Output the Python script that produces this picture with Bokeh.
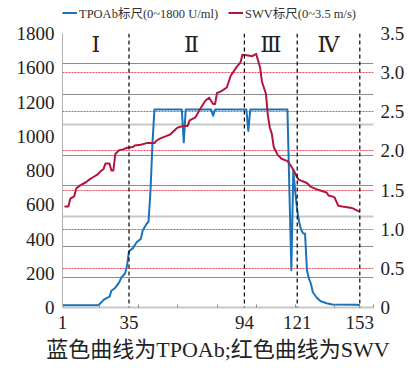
from bokeh.plotting import figure
from bokeh.layouts import column
from bokeh.models import (Range1d, LinearAxis, FixedTicker, Grid, Span, Legend,
                          LegendItem, Title)
from bokeh.core.properties import value
from bokeh.embed import file_html
from bokeh.resources import INLINE

# ---------------- data ----------------
tpo_x = [1, 19, 20, 22, 24, 25, 26, 28, 30, 31, 33, 34, 35, 37, 39, 41, 42, 44, 45,
         46, 47, 48, 62, 63, 64, 77, 78, 79, 95, 96, 97, 116, 118, 119, 120, 121,
         122, 123, 124, 125, 126, 127, 128, 129, 131, 133, 136, 139, 151, 153]
tpo_y = [15, 15, 22, 50, 65, 70, 110, 130, 165, 195, 225, 275, 370, 390, 430, 450,
         505, 550, 565, 770, 1080, 1300, 1300, 1085, 1300, 1300, 1260, 1300, 1300,
         1160, 1300, 1300, 245, 900, 760, 640, 560, 510, 488, 484, 243, 189, 156,
         100, 64, 41, 28, 20, 18, 17]

swv_x = [2, 4, 5, 7, 8, 10, 13, 15, 17, 19, 20, 22, 23, 25, 26, 27, 28, 30, 32, 34,
         37, 38, 41, 44, 48, 49, 51, 54, 56, 59, 60, 63, 65, 66, 69, 71, 74, 76, 78,
         79, 80, 82, 85, 87, 90, 92, 93, 96, 98, 100, 102, 103, 105, 106, 107, 108,
         109, 111, 113, 116, 117, 119, 121, 122, 126, 128, 132, 136, 137, 140, 142,
         144, 149, 150, 153]
swv_y = [1.29, 1.29, 1.39, 1.42, 1.52, 1.56, 1.60, 1.64, 1.67, 1.70, 1.73, 1.77,
         1.84, 1.84, 1.75, 1.75, 1.96, 2.01, 2.02, 2.04, 2.05, 2.07, 2.08, 2.10,
         2.10, 2.13, 2.16, 2.19, 2.21, 2.28, 2.30, 2.32, 2.32, 2.39, 2.43, 2.52,
         2.64, 2.68, 2.60, 2.60, 2.74, 2.76, 2.81, 2.96, 3.07, 3.13, 3.23, 3.22,
         3.21, 3.24, 3.07, 2.88, 2.73, 2.45, 2.30, 2.22, 2.05, 1.95, 1.90, 1.87,
         1.84, 1.76, 1.66, 1.63, 1.59, 1.54, 1.50, 1.47, 1.43, 1.41, 1.30, 1.29,
         1.27, 1.26, 1.22]

x_ticks = [1, 35, 94, 121, 153]
x_minor = [20, 40, 60, 80, 100, 120, 140, 160]
phase_bounds = [35, 94, 121, 153]
phase_labels = ["Ⅰ", "Ⅱ", "Ⅲ", "Ⅳ"]
phase_label_x = [18, 67, 107.5, 137]
left_labels = ["0", "200", "400", "600", "800", "1000", "1200", "1600", "1800"]
right_ticks = [0, 0.5, 1.0, 1.5, 2.0, 2.5, 3.0, 3.5]
right_labels = ["0", "0.5", "1.0", "1.5", "2.0", "2.5", "3.0", "3.5"]
grid_dark = [200, 400, 800, 1000, 1400, 1600]
grid_light = [600, 1200, 1800]
swv_grid = [0.5, 1.0, 1.5, 2.0, 2.5, 3.0]
legend_labels = ["TPOAb标尺(0~1800 U/ml)", "SWV标尺(0~3.5 m/s)"]
caption = "蓝色曲线为TPOAb;红色曲线为SWV"

# ---------------- style ----------------
SERIF = "Liberation Serif, Noto Sans CJK SC"
BLUE = "#1b72b8"
RED = "#b3163c"
TPO_MAX = 1800
SWV_MAX = 3.5
W = 408
LEG_H = 22
TICK_FS = "19px"

# ---------------- legend strip (frame is aligned with the chart's frame) -----
lf = figure(width=W, height=LEG_H, output_backend="svg", toolbar_location=None,
            x_range=Range1d(-20, -19), y_range=Range1d(-20, -19),
            x_axis_type=None, y_axis_type=None, min_border=0)
lf.outline_line_color = None
lf.background_fill_alpha = 0
l_tpo = lf.line(tpo_x, tpo_y, line_color=BLUE, line_width=2)
l_swv = lf.line(swv_x, swv_y, line_color=RED, line_width=2)
legend = Legend(items=[LegendItem(label=legend_labels[0], renderers=[l_tpo]),
                       LegendItem(label=legend_labels[1], renderers=[l_swv])],
                orientation="horizontal", location=(0, 0))
legend.padding = 0
legend.margin = 0
legend.spacing = 10
legend.glyph_width = 15
legend.glyph_height = 15
legend.label_height = 15
legend.label_standoff = 2
legend.label_text_font = SERIF
legend.label_text_font_size = "12.5px"
legend.label_text_color = "#333333"
legend.background_fill_alpha = 0
legend.border_line_color = None
lf.add_layout(legend)

# ---------------- main chart ----------------
p = figure(width=W, height=368 - LEG_H, output_backend="svg", toolbar_location=None,
           x_range=Range1d(1, 160), y_range=Range1d(0, TPO_MAX),
           x_axis_type=None, y_axis_type=None,
           min_border_left=62, min_border_right=35, min_border_top=33 - LEG_H,
           min_border_bottom=61)
p.extra_y_ranges = {"swv": Range1d(0, SWV_MAX)}
p.outline_line_color = None
p.background_fill_color = "white"

# grids
p.add_layout(Grid(dimension=1, ticker=FixedTicker(ticks=grid_dark),
                  grid_line_color="#8c8c8c", grid_line_width=1), "center")
p.add_layout(Grid(dimension=1, ticker=FixedTicker(ticks=grid_light),
                  grid_line_color="#c8c8c8", grid_line_width=2), "center")
p.add_layout(Grid(dimension=1, y_range_name="swv", ticker=FixedTicker(ticks=swv_grid),
                  grid_line_color="#e8485a", grid_line_dash="2 1",
                  grid_line_width=1), "center")

# axes
n = len(left_labels)
left_pos = [int(round(TPO_MAX * k / (n - 1))) for k in range(n)]
yax = LinearAxis(ticker=FixedTicker(ticks=left_pos),
                 major_label_overrides={pos: lab for pos, lab in zip(left_pos, left_labels)})
yax.axis_line_color = "#b0b0b0"
yax.major_tick_in = 0
yax.major_tick_out = 0
yax.minor_tick_line_color = None
yax.major_label_standoff = 8
yax.major_label_text_font = SERIF
yax.major_label_text_font_size = TICK_FS
yax.major_label_text_color = "#222222"
p.add_layout(yax, "left")

rax = LinearAxis(y_range_name="swv", ticker=FixedTicker(ticks=right_ticks),
                 major_label_overrides={t: lab for t, lab in zip(right_ticks, right_labels)})
rax.axis_line_color = None
rax.major_tick_in = 0
rax.major_tick_out = 0
rax.minor_tick_line_color = None
rax.major_label_standoff = 7
rax.major_label_text_font = SERIF
rax.major_label_text_font_size = TICK_FS
rax.major_label_text_color = "#222222"
p.add_layout(rax, "right")

xax = LinearAxis(ticker=FixedTicker(ticks=x_ticks, minor_ticks=x_minor))
xax.axis_line_color = "#c8c8c8"
xax.axis_line_width = 2
xax.major_tick_in = 0
xax.major_tick_out = 0
xax.minor_tick_in = 3
xax.minor_tick_out = 0
xax.minor_tick_line_color = "#888888"
xax.major_label_standoff = 8
xax.major_label_text_font = SERIF
xax.major_label_text_font_size = TICK_FS
xax.major_label_text_color = "#222222"
p.add_layout(xax, "below")

# phase boundaries
for b in phase_bounds:
    p.add_layout(Span(location=b, dimension="height", line_color="black",
                      line_dash="4 3", line_width=1.2))

# data lines
p.line(tpo_x, tpo_y, line_color=BLUE, line_width=2, line_join="round")
p.line(swv_x, swv_y, y_range_name="swv", line_color=RED, line_width=2,
       line_join="round")

# phase labels
p.text(x=phase_label_x, y=[1725] * len(phase_labels), text=phase_labels,
       text_font=value("DejaVu Serif"), text_font_size="22px", text_align="center",
       text_baseline="middle", text_color="#222222")

# caption
p.add_layout(Title(text=caption, align="center", text_font=SERIF,
                   text_font_size="22px", text_font_style="normal",
                   text_color="#222222", standoff=6), "below")

layout = column(lf, p, spacing=0)
open("out.html", "w").write(file_html(layout, INLINE))
